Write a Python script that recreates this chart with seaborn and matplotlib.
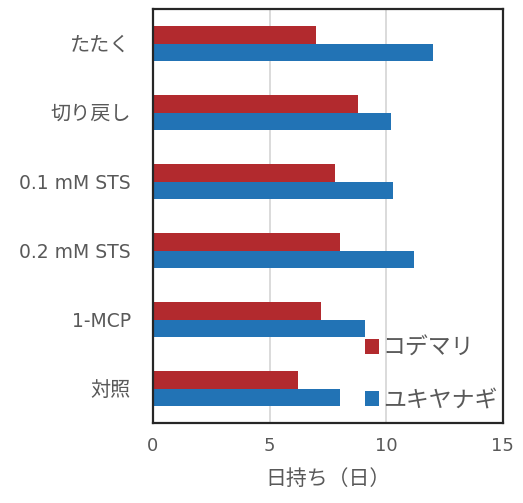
import matplotlib
matplotlib.use("Agg")
import matplotlib.pyplot as plt
import seaborn as sns
import pandas as pd

treatments = ['たたく', '切り戻し', '0.1 mM STS', '0.2 mM STS', '1-MCP', '対照']
kodemari = [7.0, 8.8, 7.8, 8.0, 7.2, 6.2]
yukiyanagi = [12.0, 10.2, 10.3, 11.2, 9.1, 8.0]
series = ['コデマリ', 'ユキヤナギ']
colors = ['#B22A2E', '#2273B5']

df = pd.DataFrame({
    'treatment': treatments * 2,
    'days': kodemari + yukiyanagi,
    'plant': [series[0]] * len(treatments) + [series[1]] * len(treatments),
})

sns.set_style('white')
plt.rcParams['font.family'] = ['DejaVu Sans', 'Noto Sans CJK JP']
text_gray = '#595959'

fig = plt.figure(figsize=(5.23, 5.03), dpi=100)
ax = fig.add_axes([0.2925, 0.159, 0.669, 0.823])

sns.barplot(data=df, x='days', y='treatment', hue='plant', order=treatments,
            hue_order=series, palette=colors, width=0.5, saturation=1,
            orient='h', ax=ax, linewidth=0)

ax.set_xlim(0, 15)
ax.set_xticks([0, 5, 10, 15])
ax.xaxis.grid(True, color='#D4D4D4', linewidth=1.2)
ax.set_axisbelow(True)
for s in ax.spines.values():
    s.set_visible(True)
    s.set_color('#262626')
    s.set_linewidth(1.6)

ax.tick_params(axis='y', length=0, pad=16, labelsize=13.5, labelcolor=text_gray)
ax.tick_params(axis='x', length=0, pad=10, labelsize=13, labelcolor=text_gray)
# japanese labels a bit bigger than the latin ones
for lab in ax.get_yticklabels():
    if not lab.get_text().isascii():
        lab.set_fontsize(14.5)
ax.set_ylabel('')
ax.set_xlabel('日持ち（日）', fontsize=15, color=text_gray, labelpad=10)

ax.legend(loc='upper left', bbox_to_anchor=(0.58, 0.23), frameon=False,
          fontsize=16.5, labelcolor=text_gray, handlelength=0.62, handleheight=0.62,
          handletextpad=0.15, labelspacing=1.25, borderaxespad=0)

fig.savefig('out.png', dpi=100)
